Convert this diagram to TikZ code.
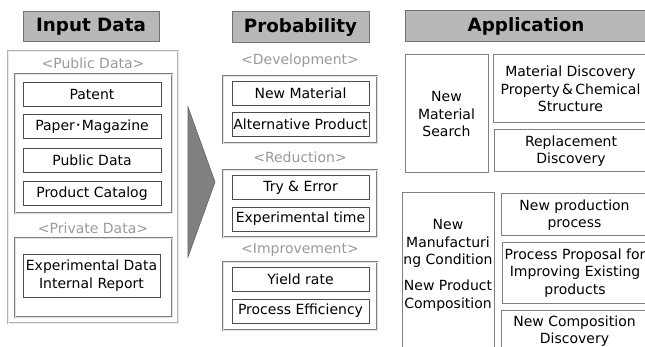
\documentclass[tikz,border=0pt]{standalone}
\usepackage{fontspec}
\setmainfont{DejaVu Sans}
\newfontfamily\cjk{Noto Sans CJK JP}
\usetikzlibrary{positioning}

\begin{document}
\begin{tikzpicture} [
                x=1pt, y=-1pt,
                header/.style = {draw=black!55, fill=black!28, line width=1pt, inner sep=0pt,
                    font=\fontsize{18.3}{20}\selectfont\bfseries},
                item/.style = {draw=black!70, line width=0.9pt, inner sep=0pt, align=center,
                    font=\fontsize{14}{17.5}\selectfont},
                group/.style = {draw=black!50, double=black!12, double distance=0.7pt, line width=0.7pt,
                    inner sep=0pt},
                outer/.style = {draw=black!30, double=black!8, double distance=0.6pt, line width=0.6pt,
                    inner sep=0pt},
                tag/.style = {text=black!40, inner sep=0pt, font=\fontsize{14}{17}\selectfont},
                app text/.style = {inner sep=0pt, align=center, font=\fontsize{14}{17.7}\selectfont},
                app/.style = {app text, draw=black!50, line width=1pt},
            ]
            \useasboundingbox (0,0) rectangle (645,347);
            \clip (0,0) rectangle (645,347);
            % First we draw the input column
            \node[header, minimum width=136, minimum height=30] (input) at (91,27) {Input Data};
            \node[outer, minimum width=170, minimum height=272] (inbox) at (93,187) {};
            \node[tag] (public) at (93,63) {<Public Data>};
            \node[group, minimum width=157, minimum height=139] (publicbox) at (93.5,143.5) {};
            \foreach \y/\name/\text in {
                    94/patent/Patent, 126.5/paper/Paper{\cjk ･}Magazine,
                    160.5/pubdata/Public Data, 193.5/catalog/Product Catalog}
                \node[item, minimum width=138, minimum height=24] (\name) at (92,\y) {\text};
            \node[tag] (private) at (93,228) {<Private Data>};
            \node[group, minimum width=157, minimum height=79] (privatebox) at (93.5,277.5) {};
            \node[item, minimum width=137, minimum height=43] (expdata) at (91.5,275.5)
                {Experimental Data\\Internal Report};
            % Big arrow between input and probability
            \coordinate (arrtop) at (188,107);
            \coordinate (arrbot) at (188,257);
            \coordinate (arrtip) at (215,182);
            \draw[fill=black!50, draw=black!62, line width=0.6pt] (arrtop) -- (arrtip) -- (arrbot) -- cycle;
            % Probability column
            \node[header, minimum width=137, minimum height=31] (prob) at (300.5,27.5) {Probability};
            \foreach \ty/\gy/\gh/\tname/\gname/\text in {
                    61/109.5/67/develop/devbox/Development,
                    157/203.5/67/reduce/redbox/Reduction,
                    250/296/68/improve/impbox/Improvement} {
                \node[tag] (\tname) at (300,\ty) {<\text>};
                \node[group, minimum width=154, minimum height=\gh] (\gname) at (300,\gy) {};
            }
            \foreach \y/\name/\text in {
                    93/newmat/New Material, 124/altprod/Alternative Product,
                    187.5/tryerr/Try \& Error, 219/exptime/Experimental time,
                    279.5/yield/Yield rate, 311/effic/Process Efficiency}
                \node[item, minimum width=137, minimum height=24] (\name) at (300.5,\y) {\text};
            % Application column
            \node[header, minimum width=242, minimum height=31] (appl) at (526,26.5) {Application};
            \node[app, minimum width=83, minimum height=118] (search) at (446.5,114)
                {New\\Material\\Search};
            \node[app, minimum width=155, minimum height=68] (matdisc) at (570.5,89)
                {Material Discovery\\Property\,\&\,Chemical\\Structure};
            \node[app, minimum width=154, minimum height=42] (replace) at (571,151)
                {Replacement\\Discovery};
            \node[app, minimum width=92, minimum height=170] (manuf) at (448,278) {};
            \node[app text, anchor=north] (manuftext) at (448,219)
                {New\\Manufacturi\\ng Condition\\[8pt]New Product\\Composition};
            \node[app, minimum width=147, minimum height=42] (newproc) at (574.5,215)
                {New production\\process};
            \node[app, minimum width=146, minimum height=60] (proposal) at (575,273)
                {Process Proposal for\\Improving Existing\\products};
            \node[app, minimum width=147, minimum height=42] (compdisc) at (574.5,331)
                {New Composition\\Discovery};
        \end{tikzpicture}
\end{document}
